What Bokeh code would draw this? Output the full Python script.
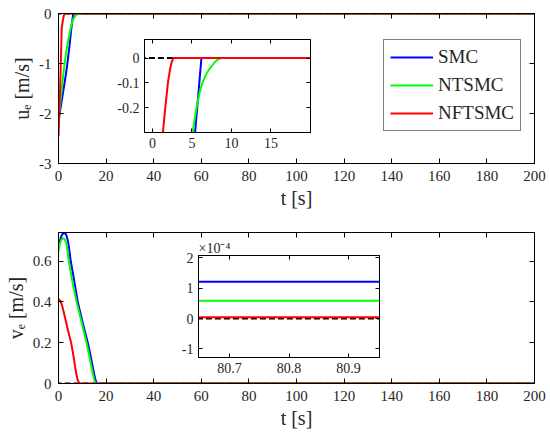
from bokeh.plotting import figure
from bokeh.models import (LinearAxis, FixedTicker, PrintfTickFormatter,
                          CustomJSTickFormatter, Range1d)
from bokeh.layouts import column
from bokeh.embed import file_html
from bokeh.resources import INLINE

# ---------------- data ----------------
series_names = ["SMC", "NTSMC", "NFTSMC"]
series_colors = ["#0000ff", "#00ff00", "#ff0000"]

# u_e (top panel)
t_u_smc = [0.0, 1.0, 2.0, 3.0, 3.6, 4.5, 5.4, 5.8, 6.2, 200.0]
u_smc = [-2.15, -1.85, -1.55, -1.25, -1.05, -0.70, -0.30, -0.15, 0.0, 0.0]
t_u_ntsmc = [0.0, 1.0, 2.0, 2.5, 3.0, 4.0, 5.08, 5.58, 6.0, 6.33, 6.8, 7.25,
             7.9, 8.3, 8.7, 200.0]
u_ntsmc = [-2.15, -1.68, -1.23, -1.02, -0.85, -0.56, -0.30, -0.20, -0.135,
           -0.10, -0.065, -0.042, -0.016, -0.006, 0.0, 0.0]
t_u_nftsmc = [0.0, 0.4, 0.8, 1.1, 1.33, 1.63, 1.96, 2.25, 2.45, 2.67, 200.0]
u_nftsmc = [-2.45, -1.9, -1.3, -0.75, -0.30, -0.20, -0.10, -0.042, -0.015,
            0.0, 0.0]

# v_e (bottom panel)
t_v_smc = [0.0, 0.5, 1.0, 1.5, 2.0, 2.4, 3.0, 3.5, 4.0, 4.5, 5.0, 6.5, 8.1,
           10.0, 12.3, 13.5, 14.9, 15.6, 16.2, 200.0]
v_smc = [0.665, 0.695, 0.716, 0.729, 0.736, 0.738, 0.733, 0.72, 0.695, 0.66,
         0.61, 0.51, 0.40, 0.305, 0.20, 0.135, 0.05, 0.015, 0.0, 0.0]
t_v_ntsmc = [0.0, 0.5, 1.0, 1.5, 1.97, 2.5, 3.0, 3.5, 4.3, 6.0, 7.6, 9.7,
             11.8, 13.2, 14.4, 15.0, 15.5, 200.0]
v_ntsmc = [0.648, 0.68, 0.70, 0.708, 0.712, 0.708, 0.695, 0.675, 0.60, 0.49,
           0.40, 0.30, 0.20, 0.12, 0.05, 0.02, 0.0, 0.0]
t_v_nftsmc = [0.0, 0.8, 1.55, 2.3, 3.0, 4.0, 5.3, 6.0, 6.5, 7.0, 7.5, 8.0,
              8.5, 9.0, 200.0]
v_nftsmc = [0.415, 0.405, 0.38, 0.345, 0.31, 0.26, 0.20, 0.155, 0.12, 0.08,
            0.045, 0.02, 0.006, 0.0, 0.0]

# zoomed window of v_e
t_zoom = [80.6, 81.0]
v_zoom_smc = [1.21e-4, 1.21e-4]
v_zoom_ntsmc = [0.58e-4, 0.58e-4]
v_zoom_nftsmc = [0.04e-4, 0.04e-4]
v_zoom_ref = [0.0, 0.0]

# zero reference (dashed)
t_ref = [-5.0, 200.0]
ref_zero = [0.0, 0.0]

# ticks
x_ticks_main = [0, 20, 40, 60, 80, 100, 120, 140, 160, 180, 200]
y_ticks_u = [-3, -2, -1, 0]
y_ticks_v = [0, 0.2, 0.4, 0.6]
x_ticks_in1 = [0, 5, 10, 15]
y_ticks_in1 = [-0.2, -0.1, 0]
x_ticks_in2 = [80.7, 80.8, 80.9]
y_ticks_in2 = [-1e-4, 0, 1e-4, 2e-4]

FONT = "Liberation Serif"
TXT = "#262626"


def base_fig(w, h, xr, yr, ml, mr, mt, mb, styles=None, alpha=1.0):
    kw = dict(width=w, height=h, x_range=Range1d(*xr), y_range=Range1d(*yr),
              output_backend="svg", toolbar_location=None,
              min_border_left=ml, min_border_right=mr, min_border_top=mt,
              min_border_bottom=mb, background_fill_color="white",
              border_fill_color="white", border_fill_alpha=alpha,
              outline_line_color="black", outline_line_width=1)
    if styles:
        kw["styles"] = styles
    p = figure(**kw)
    p.xgrid.visible = False
    p.ygrid.visible = False
    return p


def style_axes(p, xt, yt, fs, tick, xfmt, yfmt, xlabel=None, ylabel=None,
               xstand=7, ystand=7):
    xa = p.below[0]
    ya = p.left[0]
    for ax, tk, fm, lab, st in ((xa, xt, xfmt, xlabel, xstand),
                                (ya, yt, yfmt, ylabel, ystand)):
        ax.ticker = FixedTicker(ticks=tk)
        ax.formatter = fm
        ax.major_tick_in = tick
        ax.major_tick_out = 0
        ax.minor_tick_in = 0
        ax.minor_tick_out = 0
        ax.major_tick_line_color = "black"
        ax.axis_line_color = "black"
        ax.major_label_text_font = FONT
        ax.major_label_text_font_size = fs
        ax.major_label_text_color = TXT
        ax.major_label_standoff = st
        if lab is not None:
            ax.axis_label = lab
            ax.axis_label_text_font = FONT
            ax.axis_label_text_font_size = "20px"
            ax.axis_label_text_font_style = "normal"
            ax.axis_label_text_color = TXT
            ax.axis_label_standoff = 3
    blank = CustomJSTickFormatter(code="return '';")
    for tk, side in ((xt, "above"), (yt, "right")):
        m = LinearAxis(ticker=FixedTicker(ticks=tk), formatter=blank,
                       major_tick_in=tick, major_tick_out=0,
                       minor_tick_in=0, minor_tick_out=0,
                       major_label_standoff=0,
                       major_label_text_font_size="1px",
                       axis_line_color="black",
                       major_tick_line_color="black")
        p.add_layout(m, side)


gfmt = PrintfTickFormatter(format="%g")

# ---------------- top panel ----------------
top = base_fig(550, 219, (0, 200), (-3, 0), 58, 16, 13, 56)
style_axes(top, x_ticks_main, y_ticks_u, "15px", 5, gfmt, gfmt,
           xlabel="t [s]", ylabel="uₑ [m/s]")
top.line(t_ref, ref_zero, color="black", line_width=2, line_dash="6 3")
u_data = [(t_u_smc, u_smc), (t_u_ntsmc, u_ntsmc), (t_u_nftsmc, u_nftsmc)]
for (tx, ux), nm, c in zip(u_data, series_names, series_colors):
    top.line(tx, ux, color=c, line_width=2, legend_label=nm)
lg = top.legend[0]
lg.location = (325, 32)
lg.label_text_font = FONT
lg.label_text_font_size = "19px"
lg.label_text_color = TXT
lg.glyph_width = 43
lg.glyph_height = 22
lg.label_height = 22
lg.label_standoff = 5
lg.spacing = 6
lg.padding = 6
lg.margin = 0
lg.border_line_color = "black"
lg.border_line_width = 1
lg.background_fill_alpha = 1.0

# ---------------- bottom panel ----------------
bot = base_fig(550, 220, (0, 200), (0, 0.74), 58, 16, 13, 56)
style_axes(bot, x_ticks_main, y_ticks_v, "15px", 5, gfmt, gfmt,
           xlabel="t [s]", ylabel="vₑ [m/s]")
bot.line(t_ref, ref_zero, color="black", line_width=2, line_dash="6 3")
v_data = [(t_v_smc, v_smc), (t_v_ntsmc, v_ntsmc), (t_v_nftsmc, v_nftsmc)]
for (tx, vx), c in zip(v_data, series_colors):
    bot.line(tx, vx, color=c, line_width=2)

# ---------------- inset 1 (u_e zoom) ----------------
# (column aligns side borders of its plots: left 58, right 16)
ins1 = base_fig(240, 119, (-1, 20), (-0.3, 0.075), 58, 16, 2, 24,
                styles={"position": "absolute", "left": "86px",
                        "top": "37px"}, alpha=0.0)
style_axes(ins1, x_ticks_in1, y_ticks_in1, "14px", 4, gfmt, gfmt,
           xstand=5, ystand=5)
ins1.line(t_ref, ref_zero, color="black", line_width=2, line_dash="6 3")
for (tx, ux), c in zip(u_data, series_colors):
    ins1.line(tx, ux, color=c, line_width=2)

# ---------------- inset 2 (v_e zoom) ----------------
ins2 = base_fig(255, 146, (80.648, 80.952), (-1.28e-4, 2.07e-4), 58, 16, 20,
                24, styles={"position": "absolute", "left": "140px",
                            "top": "235px"}, alpha=0.0)
style_axes(ins2, x_ticks_in2, y_ticks_in2, "14px", 4, gfmt,
           CustomJSTickFormatter(code="return (tick*1e4).toFixed(0);"),
           xstand=5, ystand=5)
ins2.title.text = "×10⁻⁴"
ins2.title.text_font = FONT
ins2.title.text_font_size = "14px"
ins2.title.text_font_style = "normal"
ins2.title.text_color = TXT
ins2.title.align = "left"
ins2.title.standoff = 0
ins2.line(t_zoom, v_zoom_ref, color="black", line_width=2, line_dash="6 3")
for vz, c in zip([v_zoom_smc, v_zoom_ntsmc, v_zoom_nftsmc], series_colors):
    ins2.line(t_zoom, vz, color=c, line_width=2)

root = column(top, bot, ins1, ins2)
open("out.html", "w").write(file_html(root, INLINE))
